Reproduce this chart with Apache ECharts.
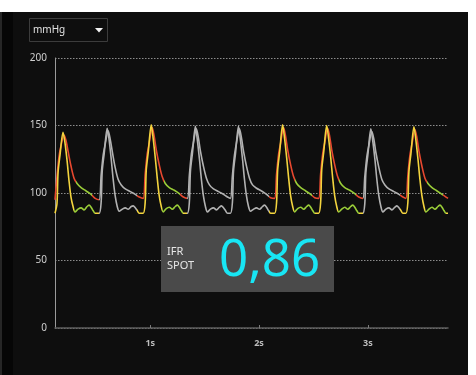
<!DOCTYPE html>
<html>
<head>
<meta charset="utf-8">
<script src="https://cdn.jsdelivr.net/npm/echarts@6/dist/echarts.min.js"></script>
<style>
  html, body { margin: 0; padding: 0; background: #ffffff; }
  #panel { position: absolute; left: 0; top: 12px; width: 468px; height: 363px; background: #0e0e0e; }
  #edge { position: absolute; left: 0; top: 12px; width: 13px; height: 363px; background: #060606;
          border-left: 2px solid #262626; box-sizing: border-box; }
  #chart { position: absolute; left: 0; top: 0; width: 476px; height: 375px; }
</style>
</head>
<body>
<div id="panel"></div>
<div id="edge"></div>
<div id="chart"></div>
<script>
// Time in ms, pressure in mmHg.
const timeTicks = [1000, 2000, 3000];
const pressureTicks = [0, 50, 100, 150, 200];

// Aortic pressure (Pa), one row per beat
const paTrace = [
  [124,95],[142,112],[161,127],[179,135],[207,143],[225,139],[244,131],[271,120],[299,111],[327,107],[364,104],[410,101.5],[456,99],[493,96],
  [530,95],[548,113],[567,128],[585,136],[613,146],[631,140],[650,131],[677,119],[705,110],[733,106],[770,103],[816,101],[862,99],[899,97],
  [935,96],[953,114],[972,129],[990,137],[1018,148.5],[1036,142],[1055,132],[1082,121],[1110,112],[1138,107],[1175,104],[1221,102],[1267,99.5],[1304,97],
  [1341,96],[1359,113],[1378,129],[1396,137],[1424,147.5],[1442,141],[1461,131],[1488,120],[1516,111],[1544,106],[1581,103],[1627,101],[1673,99],[1710,97],
  [1737,96],[1755,113],[1774,128],[1792,137],[1820,147.5],[1838,141],[1857,131],[1884,120],[1912,111],[1940,106],[1977,103.5],[2023,101.5],[2069,99],[2106,96.5],
  [2143,96],[2161,114],[2180,129],[2198,137],[2226,148.5],[2244,142],[2263,132],[2290,121],[2318,112],[2346,107],[2383,104],[2429,101.5],[2475,99],[2512,96.5],
  [2548,96],[2566,114],[2585,129],[2603,137],[2631,148],[2649,142],[2668,132],[2695,121],[2723,112],[2751,107],[2788,104],[2834,102],[2880,99.5],[2917,97],
  [2954,96],[2972,112],[2991,127],[3009,135],[3037,145.5],[3055,140],[3074,130],[3101,119],[3129,110],[3157,106],[3194,103],[3240,101],[3286,99],[3323,97],
  [3350,96],[3368,113],[3387,128],[3405,136],[3433,147],[3451,141],[3470,131],[3497,120],[3525,111],[3553,107],[3590,104],[3636,101.5],[3682,99],[3719,97],
  [3737,96]
];

// Distal pressure (Pd), one row per beat
const pdTrace = [
  [124,85],[142,92],[152,115],[170,128],[198,145],[216,137],[235,124],[253,109],[271,97],[290,90],[308,86],[336,88],[364,89],[391,87.5],[419,90],[437,91],[456,89.5],[474,87],[493,85],
  [530,85],[548,93],[558,116],[576,129],[604,148],[622,139],[641,125],[659,110],[677,98],[696,90],[714,86.5],[742,88],[770,89],[797,88],[825,90],[843,90.5],[862,89],[880,87],[899,85],
  [935,85],[953,93],[963,117],[981,130],[1009,150.5],[1027,140],[1046,126],[1064,111],[1082,98],[1101,90],[1119,86],[1147,88.5],[1175,89.5],[1202,88],[1230,90],[1248,91],[1267,89.5],[1285,87],[1304,85],
  [1341,85],[1359,93],[1369,116],[1387,129],[1415,149.5],[1433,139],[1452,125],[1470,110],[1488,98],[1507,90],[1525,86],[1553,88],[1581,89],[1608,87.5],[1636,89.5],[1654,90.5],[1673,89],[1691,87],[1710,85],
  [1737,85],[1755,93],[1765,116],[1783,129],[1811,149.5],[1829,139],[1848,125],[1866,110],[1884,98],[1903,90],[1921,86.5],[1949,88],[1977,89],[2004,88],[2032,90],[2050,91],[2069,89.5],[2087,87],[2106,85],
  [2143,85],[2161,93],[2171,117],[2189,130],[2217,150.5],[2235,140],[2254,126],[2272,111],[2290,98],[2309,90],[2327,86],[2355,88.5],[2383,89.5],[2410,88],[2438,90],[2456,91],[2475,89.5],[2493,87],[2512,85],
  [2548,85],[2566,93],[2576,117],[2594,130],[2622,150],[2640,140],[2659,126],[2677,111],[2695,98],[2714,90],[2732,86],[2760,88],[2788,89.5],[2815,88],[2843,90],[2861,91],[2880,89.5],[2898,87],[2917,85],
  [2954,85],[2972,92],[2982,115],[3000,128],[3028,147.5],[3046,138],[3065,125],[3083,110],[3101,98],[3120,90],[3138,86],[3166,88],[3194,89],[3221,87.5],[3249,89.5],[3267,90.5],[3286,89],[3304,87],[3323,85],
  [3350,85],[3368,93],[3378,116],[3396,129],[3424,149],[3442,139],[3461,125],[3479,110],[3497,98],[3516,90],[3534,86],[3562,88],[3590,89.5],[3617,88],[3645,90],[3663,91],[3682,89.5],[3700,87],[3719,85],
  [3737,85]
];

// Beats used for the iFR calculation: [start, end] in ms
const analysedSpans = [[0, 530], [880, 1341], [2088, 2548], [2548, 2954], [3295, 3800]];
// Wave-free windows inside those beats
const paWindows = [[314, 464], [1125, 1275], [2333, 2483], [2738, 2888], [3540, 3690]];
const pdWindows = [[299, 494], [1110, 1305], [2318, 2513], [2723, 2918], [3525, 3720]];

const ifrValue = '0,86';

const GRAY = '#b2b2b2', RED = '#e8482f', YELLOW = '#f3d43e', GREEN = '#9acd38';

function buildPieces(windows, baseColor) {
  const pieces = [];
  analysedSpans.forEach((span, i) => {
    const w = windows[i];
    pieces.push({ gte: span[0], lt: w[0], color: baseColor });
    pieces.push({ gte: w[0], lt: w[1], color: GREEN });
    pieces.push({ gte: w[1], lt: span[1], color: baseColor });
  });
  return pieces;
}

const chart = echarts.init(document.getElementById('chart'), null, { renderer: 'canvas' });
const FONT = '"Noto Sans", "DejaVu Sans", sans-serif';

chart.setOption({
  backgroundColor: 'transparent',
  animation: false,
  grid: { left: 55, right: 28, top: 58, bottom: 47, containLabel: false },
  xAxis: {
    type: 'value',
    min: 124,
    max: 3737,
    position: 'bottom',
    offset: 24,
    axisLine: { show: true, lineStyle: { color: '#5e5e5e', width: 1.5 } },
    axisTick: { show: true, inside: true, length: 3, customValues: timeTicks, lineStyle: { color: '#7a7a7a' } },
    axisLabel: {
      inside: true, margin: 4, customValues: timeTicks,
      formatter: v => (v / 1000) + 's',
      color: '#bdbdbd', fontSize: 9, fontWeight: 'bold', fontFamily: FONT
    },
    splitLine: { show: false }
  },
  yAxis: {
    type: 'value',
    min: 0, max: 200, interval: 50,
    axisLine: { show: true, lineStyle: { color: '#9a9a9a', width: 1 } },
    axisTick: { show: false },
    axisLabel: {
      margin: 8, color: '#cfcfcf', fontSize: 10, fontFamily: FONT,
      customValues: pressureTicks
    },
    splitLine: { show: true, lineStyle: { color: '#8c8c8c', width: 1.2, type: [1.5, 1.5] } }
  },
  visualMap: [
    { type: 'piecewise', show: false, seriesIndex: 0, dimension: 0,
      pieces: buildPieces(paWindows, RED), outOfRange: { color: GRAY } },
    { type: 'piecewise', show: false, seriesIndex: 1, dimension: 0,
      pieces: buildPieces(pdWindows, YELLOW), outOfRange: { color: GRAY } }
  ],
  series: [
    { name: 'Pa', type: 'line', data: paTrace, showSymbol: false, smooth: 0.3,
      lineStyle: { width: 1.6 }, silent: true, z: 2 },
    { name: 'Pd', type: 'line', data: pdTrace, showSymbol: false, smooth: 0.3,
      lineStyle: { width: 1.6 }, silent: true, z: 3 }
  ],
  graphic: [
    // unit selector
    { type: 'rect', shape: { x: 29.5, y: 18.5, width: 78, height: 23 },
      style: { fill: '#0e0e0e', stroke: '#3c3c3c', lineWidth: 1 }, silent: true },
    { type: 'text', x: 33, y: 30,
      style: { text: 'mmHg', fill: '#e2e2e2', fontSize: 10, fontFamily: FONT, verticalAlign: 'middle' } },
    { type: 'polygon', shape: { points: [[95, 28], [103, 28], [99, 32.5]] },
      style: { fill: '#f2f2f2' }, silent: true },
    // iFR result box
    { type: 'rect', shape: { x: 161, y: 226, width: 173, height: 66 },
      style: { fill: '#4a4a4a' }, silent: true, z: 10 },
    { type: 'text', x: 167, y: 252, z: 11,
      style: { text: 'IFR', fill: '#e6e6e6', fontSize: 11, fontFamily: FONT, verticalAlign: 'middle' } },
    { type: 'text', x: 167, y: 266, z: 11,
      style: { text: 'SPOT', fill: '#e6e6e6', fontSize: 11, fontFamily: FONT, verticalAlign: 'middle' } },
    { type: 'text', x: 219, y: 261, z: 11,
      style: { text: ifrValue, fill: '#18e6f4', fontSize: 51, fontFamily: FONT, verticalAlign: 'middle' } }
  ]
});
</script>
</body>
</html>
